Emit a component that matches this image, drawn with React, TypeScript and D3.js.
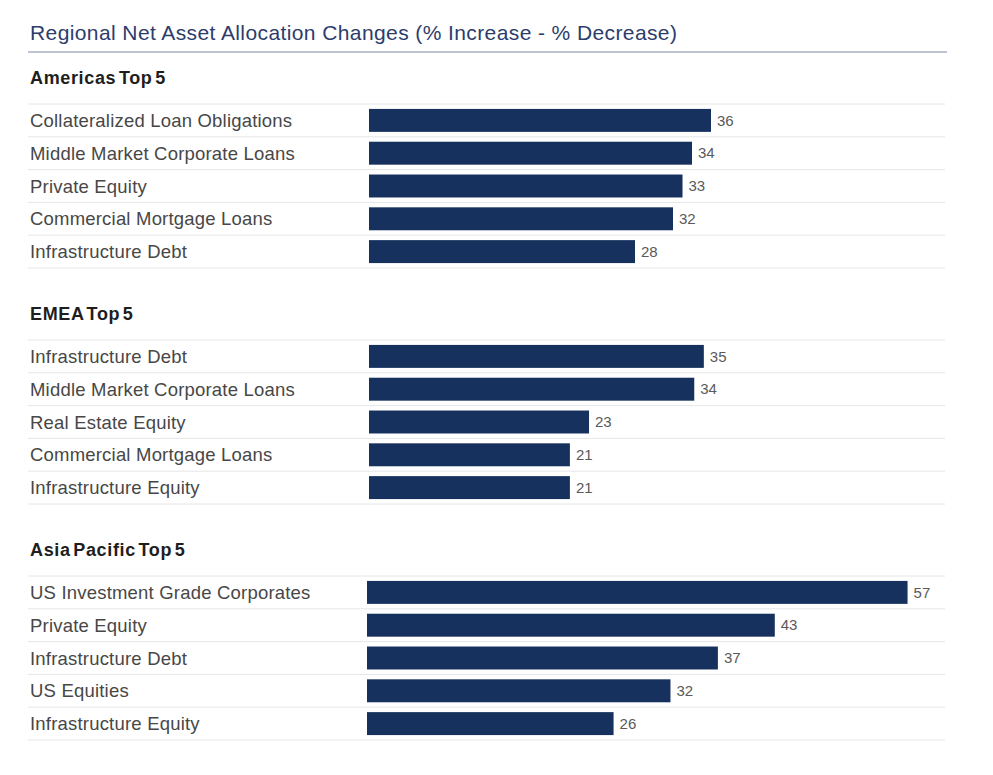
import * as d3 from "d3";

const americasCategories = [
  "Collateralized Loan Obligations",
  "Middle Market Corporate Loans",
  "Private Equity",
  "Commercial Mortgage Loans",
  "Infrastructure Debt",
];
const americasValues = [36, 34, 33, 32, 28];

const emeaCategories = [
  "Infrastructure Debt",
  "Middle Market Corporate Loans",
  "Real Estate Equity",
  "Commercial Mortgage Loans",
  "Infrastructure Equity",
];
const emeaValues = [35, 34, 23, 21, 21];

const asiaCategories = [
  "US Investment Grade Corporates",
  "Private Equity",
  "Infrastructure Debt",
  "US Equities",
  "Infrastructure Equity",
];
const asiaValues = [57, 43, 37, 32, 26];

const sectionTitles = ["Americas Top 5", "EMEA Top 5", "Asia Pacific Top 5"];

const W = 993;
const H = 775;
const font = "'Liberation Sans', Arial, Helvetica, sans-serif";
const barColor = "#17315f";

function Section({
  title,
  categories,
  values,
  top,
  left,
  span,
}: {
  title: string;
  categories: string[];
  values: number[];
  top: number;
  left: number;
  span: number;
}) {
  // each block is its own small chart with its own scale
  const x = d3.scaleLinear().domain([0, 60]).range([0, span]);
  const y = d3
    .scaleBand<string>()
    .domain(categories)
    .range([top, top + 164])
    .paddingInner(0.3)
    .paddingOuter(0.15);
  const step = y.step();
  return (
    <g>
      <text
        x={30}
        y={top - 20}
        fontFamily={font}
        fontWeight="bold"
        fontSize={18}
        letterSpacing={0.65}
        wordSpacing={-3}
        fill="#1e1e1e"
      >
        {title}
      </text>
      {d3.range(categories.length + 1).map((i) => (
        <line
          key={i}
          x1={28}
          x2={945}
          y1={top + i * step}
          y2={top + i * step}
          stroke="#e6e6e6"
          strokeWidth={1}
        />
      ))}
      {categories.map((c, i) => {
        const yc = (y(c) ?? 0) + y.bandwidth() / 2;
        return (
          <g key={c}>
            <text
              x={30}
              y={yc}
              dy="0.36em"
              fontFamily={font}
              fontSize={18.5}
              letterSpacing={0.2}
              fill="#474747"
            >
              {c}
            </text>
            <rect
              x={left}
              y={y(c)}
              width={x(values[i])}
              height={y.bandwidth()}
              fill={barColor}
            />
            <text
              x={left + x(values[i]) + 6}
              y={yc}
              dy="0.35em"
              fontFamily={font}
              fontSize={15}
              fill="#5a5a5a"
            >
              {values[i]}
            </text>
          </g>
        );
      })}
    </g>
  );
}

export default function App() {
  return (
    <>
      <style>{`body{margin:0;background:#fff}`}</style>
      <svg width={W} height={H} style={{ display: "block" }}>
        <rect width={W} height={H} fill="#fff" />
        <text
          x={30}
          y={40}
          fontFamily={font}
          fontSize={21}
          letterSpacing={0.4}
          fill="#2c3d6c"
        >
          Regional Net Asset Allocation Changes (% Increase - % Decrease)
        </text>
        <line x1={28} x2={947} y1={52} y2={52} stroke="#aab1c5" strokeWidth={1.5} />
        <Section
          title={sectionTitles[0]}
          categories={americasCategories}
          values={americasValues}
          top={104}
          left={369}
          span={570}
        />
        <Section
          title={sectionTitles[1]}
          categories={emeaCategories}
          values={emeaValues}
          top={340}
          left={369}
          span={574}
        />
        <Section
          title={sectionTitles[2]}
          categories={asiaCategories}
          values={asiaValues}
          top={576}
          left={367}
          span={569}
        />
      </svg>
    </>
  );
}
